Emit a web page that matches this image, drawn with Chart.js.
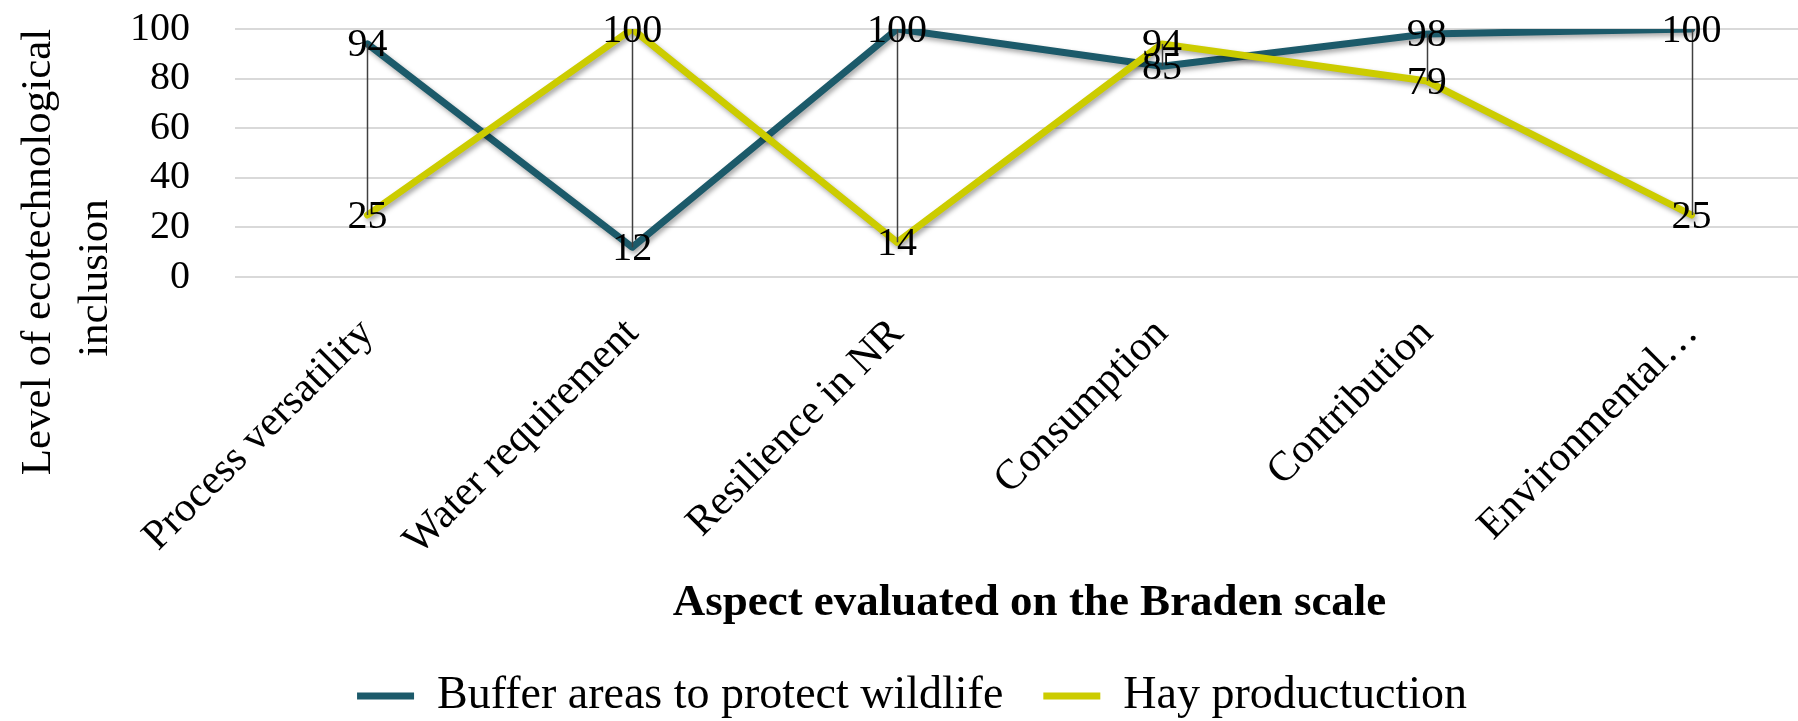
<!DOCTYPE html>
<html>
<head>
<meta charset="utf-8">
<script src="https://cdn.jsdelivr.net/npm/chart.js@4.4.0/dist/chart.umd.min.js"></script>
<style>
    html, body { margin: 0; padding: 0; background: #ffffff; overflow: hidden; }
    #wrap { width: 1834px; height: 721px; }
</style>
</head>
<body>
<div id="wrap"><canvas id="chart" width="1834" height="721"></canvas></div>
<script>
// Chart data
const categories = ['Process versatility', 'Water requirement', 'Resilience in NR', 'Consumption', 'Contribution', 'Environmental\u2026'];
const bufferAreas = [94, 12, 100, 85, 98, 100];
const hayProduction = [25, 100, 14, 94, 79, 25];
const yTicks = [0, 20, 40, 60, 80, 100];

const serif = "'Liberation Serif', 'Times New Roman', serif";
const tealColor = '#1c5a6a';
const yellowColor = '#cccc00';

// Soft shadow under each series line (like the Excel original)
const lineShadow = {
    id: 'lineShadow',
    beforeDatasetDraw(chart) {
        const ctx = chart.ctx;
        ctx.save();
        ctx.shadowColor = 'rgba(0, 0, 0, 0.35)';
        ctx.shadowBlur = 5;
        ctx.shadowOffsetX = 2;
        ctx.shadowOffsetY = 3;
    },
    afterDatasetDraw(chart) {
        chart.ctx.restore();
    }
};

// Legend keeps wide item spacing but a fixed box height
const legendHeight = {
    id: 'legendHeight',
    beforeInit(chart) {
        const originalFit = chart.legend.fit;
        chart.legend.fit = function fit() {
            originalFit.bind(chart.legend)();
            this.height = 88;
        };
    }
};

// High-low lines and value labels
const highLowAndLabels = {
    id: 'highLowAndLabels',
    afterDatasetsDraw(chart) {
        const ctx = chart.ctx;
        const x = chart.scales.x;
        const y = chart.scales.y;
        ctx.save();
        ctx.strokeStyle = '#404040';
        ctx.lineWidth = 1.5;
        categories.forEach((c, i) => {
            const hi = Math.max(bufferAreas[i], hayProduction[i]);
            const lo = Math.min(bufferAreas[i], hayProduction[i]);
            const px = Math.round(x.getPixelForValue(i)) + 0.5;
            ctx.beginPath();
            ctx.moveTo(px, y.getPixelForValue(hi));
            ctx.lineTo(px, y.getPixelForValue(lo));
            ctx.stroke();
        });
        ctx.fillStyle = '#000000';
        ctx.font = '40px ' + serif;
        ctx.textAlign = 'center';
        ctx.textBaseline = 'middle';
        chart.data.datasets.forEach((ds, di) => {
            const meta = chart.getDatasetMeta(di);
            meta.data.forEach((pt, i) => {
                ctx.fillText(String(ds.data[i]), pt.x, pt.y + 2);
            });
        });
        ctx.restore();
    },
    afterDraw(chart) {
        // two-line y axis title
        const ctx = chart.ctx;
        ctx.save();
        ctx.fillStyle = '#000000';
        ctx.font = '43px ' + serif;
        ctx.textAlign = 'center';
        ctx.textBaseline = 'alphabetic';
        ctx.translate(50, 252);
        ctx.rotate(-Math.PI / 2);
        ctx.fillText('Level of ecotechnological', 0, 0);
        ctx.fillText('inclusion', -26, 57);
        ctx.restore();
    }
};

const ctx = document.getElementById('chart').getContext('2d');
const chart = new Chart(ctx, {
    type: 'line',
    data: {
        labels: categories,
        datasets: [{
            label: 'Buffer areas to protect wildlife',
            data: bufferAreas,
            borderColor: tealColor,
            backgroundColor: tealColor,
            borderWidth: 7,
            borderCapStyle: 'round',
            borderJoinStyle: 'round',
            pointRadius: 0,
            fill: false,
            tension: 0,
            order: 1
        }, {
            label: 'Hay productuction',
            data: hayProduction,
            borderColor: yellowColor,
            backgroundColor: yellowColor,
            borderWidth: 7,
            borderCapStyle: 'round',
            borderJoinStyle: 'round',
            pointRadius: 0,
            fill: false,
            tension: 0,
            order: 0
        }]
    },
    options: {
        responsive: false,
        animation: false,
        devicePixelRatio: 1,
        layout: {
            padding: { left: 0, right: 10, top: 9, bottom: 0 }
        },
        plugins: {
            tooltip: { enabled: false },
            legend: {
                position: 'bottom',
                labels: {
                    usePointStyle: true,
                    pointStyle: 'line',
                    pointStyleWidth: 57,
                    color: '#000000',
                    padding: 40,
                    font: { family: serif, size: 46 },
                    sort: (a, b) => a.datasetIndex - b.datasetIndex
                }
            }
        },
        scales: {
            x: {
                offset: true,
                grid: { display: false },
                border: { display: false },
                ticks: {
                    color: '#000000',
                    font: { family: serif, size: 42 },
                    minRotation: 45,
                    maxRotation: 45,
                    autoSkip: false,
                    padding: 24
                },
                title: {
                    display: true,
                    text: 'Aspect evaluated on the Braden scale',
                    color: '#000000',
                    font: { family: serif, size: 45, weight: 'bold' },
                    padding: { top: 30, bottom: 3 }
                }
            },
            y: {
                min: 0,
                max: 100,
                afterBuildTicks(scale) {
                    scale.ticks = yTicks.map(v => ({ value: v }));
                },
                afterFit(scale) {
                    scale.width = 235;
                },
                grid: {
                    color: '#d9d9d9',
                    lineWidth: 2,
                    drawTicks: true,
                    tickLength: 40,
                    tickColor: 'rgba(0, 0, 0, 0)'
                },
                border: { display: false },
                ticks: {
                    color: '#000000',
                    font: { family: serif, size: 40 },
                    padding: 5,
                    autoSkip: false
                }
            }
        }
    },
    plugins: [lineShadow, legendHeight, highLowAndLabels]
});
</script>
</body>
</html>
